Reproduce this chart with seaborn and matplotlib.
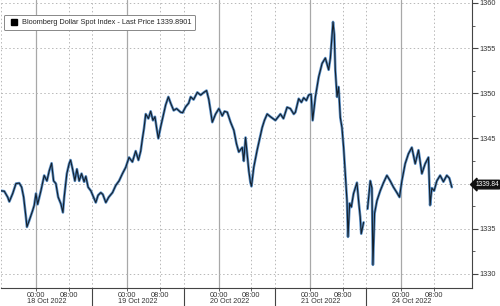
import numpy as np
import pandas as pd
import matplotlib
matplotlib.use("Agg")
import matplotlib.pyplot as plt
import matplotlib.transforms as mtransforms
from matplotlib.lines import Line2D
import seaborn as sns

# ---------------- data (time in trading-day units, value = index level) ----------------
time_day = [
    0.000, 0.036, 0.073, 0.091, 0.128, 0.164, 0.200, 0.226, 0.248, 0.273, 0.284, 0.309,
    0.346, 0.364, 0.383, 0.401, 0.437, 0.473, 0.503, 0.528, 0.554, 0.576, 0.601, 0.626,
    0.656, 0.678, 0.692, 0.721, 0.746, 0.762, 0.784, 0.809, 0.831, 0.856, 0.882, 0.910,
    0.929, 0.954, 0.984, 1.013, 1.038, 1.063, 1.093, 1.115, 1.148, 1.180, 1.221, 1.257,
    1.293, 1.330, 1.366, 1.402, 1.439, 1.475, 1.505, 1.530, 1.549, 1.566, 1.585, 1.614,
    1.639, 1.664, 1.686, 1.705, 1.723, 1.749, 1.774, 1.803, 1.833, 1.858, 1.891, 1.923,
    1.967, 1.989, 2.022, 2.055, 2.077, 2.109, 2.150, 2.186, 2.222, 2.251, 2.276, 2.314,
    2.350, 2.386, 2.423, 2.448, 2.478, 2.514, 2.550, 2.579, 2.604, 2.642, 2.659, 2.678,
    2.714, 2.732, 2.743, 2.768, 2.805, 2.860, 2.885, 2.915, 2.951, 3.005, 3.060, 3.093,
    3.133, 3.169, 3.206, 3.224, 3.260, 3.290, 3.315, 3.344, 3.369, 3.396, 3.413, 3.443,
    3.479, 3.516, 3.552, 3.588, 3.607, 3.625, 3.636, 3.650, 3.661, 3.680, 3.697, 3.716,
    3.734, 3.752, 3.770, 3.789, 3.800, 3.818, 3.836, 3.861, 3.898, 3.916, 3.934, 3.945,
    3.971,
    4.014, 4.044, 4.062, 4.073, 4.091, 4.117, 4.153, 4.189, 4.226, 4.262, 4.298, 4.335,
    4.364, 4.390, 4.426, 4.462, 4.499, 4.536, 4.572, 4.609, 4.645, 4.681, 4.699, 4.718,
    4.743, 4.773, 4.809, 4.845, 4.882, 4.910, 4.937,
]
price = [
    1339.2, 1339.15, 1338.5, 1338.0, 1338.9, 1340.0, 1340.05, 1339.6, 1338.5, 1336.3, 1335.2, 1335.9,
    1337.0, 1337.6, 1338.9, 1337.7, 1339.2, 1340.9, 1340.3, 1341.4, 1342.25, 1340.3, 1340.0, 1338.5,
    1337.75, 1336.8, 1338.5, 1341.1, 1342.2, 1342.6, 1341.6, 1340.3, 1341.6, 1340.3, 1341.1, 1340.2,
    1340.8, 1339.6, 1339.2, 1338.5, 1337.9, 1338.7, 1339.0, 1338.8, 1337.9, 1338.5, 1339.0, 1339.8,
    1340.3, 1341.1, 1341.8, 1342.9, 1342.4, 1343.6, 1342.6, 1343.6, 1345.0, 1346.1, 1347.7, 1347.2,
    1348.0, 1347.0, 1347.4, 1346.1, 1345.0, 1346.3, 1347.4, 1348.7, 1349.6, 1348.9, 1348.1, 1348.3,
    1347.9, 1347.85, 1348.5, 1348.9, 1349.6, 1349.3, 1350.1, 1349.8, 1350.1, 1350.3, 1349.3, 1346.8,
    1347.7, 1348.3, 1347.5, 1348.0, 1347.9, 1346.8, 1345.9, 1344.4, 1343.5, 1344.0, 1342.5, 1345.1,
    1341.4, 1340.1, 1339.7, 1341.8, 1343.7, 1346.2, 1347.0, 1347.7, 1347.4, 1347.0, 1347.7, 1347.2,
    1348.45, 1348.3, 1347.7, 1347.9, 1349.4, 1349.0, 1349.5, 1349.2, 1349.8, 1349.9, 1347.0, 1349.6,
    1351.8, 1353.3, 1353.9, 1352.6, 1353.9, 1356.3, 1357.9, 1356.5, 1352.6, 1349.6, 1350.7, 1347.3,
    1346.2, 1344.0, 1341.1, 1338.1, 1334.1, 1337.8, 1337.4, 1338.9, 1340.1, 1338.1, 1336.3, 1334.45,
    1335.7,
    1337.2, 1340.3, 1339.5, 1331.0, 1336.7, 1338.1, 1339.2, 1340.1, 1340.9, 1340.3, 1339.6, 1339.0,
    1338.5, 1340.3, 1342.2, 1343.3, 1344.0, 1342.2, 1343.7, 1341.1, 1342.2, 1342.9, 1337.6, 1339.5,
    1339.2, 1340.3, 1340.9, 1340.2, 1340.9, 1340.6, 1339.6,
]
session_break = 4.0          # weekend gap between 21 Oct and 24 Oct
dates = ["18 Oct 2022", "19 Oct 2022", "20 Oct 2022", "21 Oct 2022", "24 Oct 2022"]
midnight_frac = 0.383        # position of 00:00 inside each session day
eight_frac = 0.743           # position of 08:00 inside each session day
hour_labels = ["00:00", "08:00"]
y_ticks = [1330, 1335, 1340, 1345, 1350, 1355, 1360]
last_price = 1339.8901
last_label = "1339.84"
series_name = "Bloomberg Dollar Spot Index - Last Price 1339.8901"

df = pd.DataFrame({"t": time_day, "price": price})
df["segment"] = np.where(df["t"] < session_break, 0, 1)

# ---------------- figure ----------------
sns.set_theme(style="white")
plt.rcParams["font.family"] = ["Liberation Sans", "DejaVu Sans"]

fig = plt.figure(figsize=(5.0, 3.06), dpi=100)
ax = fig.add_axes([0.002, 0.059, 0.942, 0.941])

sns.lineplot(data=df, x="t", y="price", units="segment", estimator=None,
             color="#5a8fc6", linewidth=1.9, ax=ax, legend=False)
sns.lineplot(data=df, x="t", y="price", units="segment", estimator=None,
             color="#14202c", linewidth=0.8, ax=ax, legend=False)

ax.set_xlim(0, 5.158)
ax.set_ylim(1328.44, 1360.33)
ax.set_xlabel("")
ax.set_ylabel("")

# grid lines
n_days = len(dates)
midnights = [d + midnight_frac for d in range(n_days)]
eights = [d + eight_frac for d in range(n_days)]
bounds = list(range(n_days))
for xv in midnights:
    ax.axvline(xv, color="#a8a8a8", lw=0.9, zorder=0)
for xv in eights + bounds:
    ax.axvline(xv, color="#b8b8b8", lw=0.7, ls=(0, (1.5, 2.5)), zorder=0)
for yv in y_ticks:
    ax.axhline(yv, color="#b8b8b8", lw=0.7, ls=(0, (1.5, 2.5)), zorder=0)

# spines
for s in ["left", "top"]:
    ax.spines[s].set_visible(False)
for s in ["right", "bottom"]:
    ax.spines[s].set_color("#444444")
    ax.spines[s].set_linewidth(0.8)

# y axis on the right (the 1340 label is hidden behind the last-price tag)
ax.yaxis.tick_right()
ax.set_yticks(y_ticks)
ax.set_yticklabels(["" if v == 1340 else str(v) for v in y_ticks])
ax.set_yticks(np.arange(1330, 1360.1, 2.5), minor=True)
ax.tick_params(axis="y", which="major", direction="out", length=4, width=0.8,
               color="#444444", labelsize=5.3, labelcolor="#333333", pad=1, right=True, left=False)
ax.tick_params(axis="y", which="minor", direction="out", length=2, width=0.6,
               color="#444444", right=True, left=False)

# x ticks: hours (major) and day separators (long minor ticks)
xt = []
xl = []
for d in range(n_days):
    xt += [midnights[d], eights[d]]
    xl += hour_labels
ax.set_xticks(xt)
ax.set_xticklabels(xl)
ax.set_xticks(bounds[1:], minor=True)
ax.tick_params(axis="x", which="major", direction="out", length=2.5, width=0.6,
               color="#444444", labelsize=5.3, labelcolor="#333333", pad=0.3, bottom=True)
ax.tick_params(axis="x", which="minor", direction="out", length=19, width=0.8,
               color="#444444", bottom=True)

# date labels centred under each session
trans = mtransforms.blended_transform_factory(ax.transData, ax.transAxes)
for d, lab in enumerate(dates):
    ax.text(d + 0.5, -0.047, lab, transform=trans, ha="center", va="center",
            fontsize=5.2, color="#333333", clip_on=False)

# last price tag
ax.annotate(last_label, xy=(1.0, last_price), xycoords=("axes fraction", "data"),
            xytext=(2.2, 0), textcoords="offset points", ha="left", va="center",
            fontsize=4.8, color="white", annotation_clip=False, zorder=10,
            bbox=dict(boxstyle="larrow,pad=0.12", fc="#111111", ec="#111111"))

# legend
handle = Line2D([], [], marker="s", color="black", linestyle="none", markersize=4)
leg = ax.legend([handle], [series_name], loc="upper left", bbox_to_anchor=(0.006, 0.948),
                fontsize=5.3, frameon=True, fancybox=True, handlelength=1.6,
                handletextpad=0.3, borderpad=0.55, borderaxespad=0)
leg.get_frame().set_edgecolor("#888888")
leg.get_frame().set_linewidth(0.7)
leg.get_frame().set_facecolor("white")
leg.get_frame().set_alpha(1)

fig.savefig("out.png", dpi=100)
